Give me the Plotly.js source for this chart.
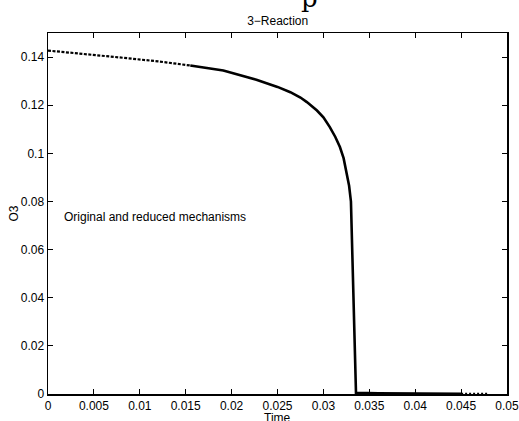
<!DOCTYPE html>
<html>
<head>
<meta charset="utf-8">
<script src="https://cdn.plot.ly/plotly-3.0.1.min.js"></script>
<style>html,body{margin:0;padding:0;background:#fff;}</style>
</head>
<body>
<div id="chart" style="width:519px;height:421px;"></div>
<script>
// Early part of curve (appears dotted in the reference)
const timeEarly = [0, 0.0041, 0.0082, 0.0120, 0.0155];
const o3Early   = [0.1427, 0.1413, 0.1397, 0.1382, 0.1365];

// Main part of curve (solid)
const timeMain = [0.0155, 0.0191, 0.0227, 0.0250, 0.0264, 0.0275, 0.0282, 0.0293, 0.0300, 0.0307, 0.0313, 0.0318, 0.0322, 0.0325, 0.0328, 0.0330, 0.03315, 0.03326, 0.03344, 0.03355, 0.0360, 0.0400, 0.0450];
const o3Main   = [0.1365, 0.1344, 0.1306, 0.1276, 0.1254, 0.1232, 0.1213, 0.1178, 0.1150, 0.1109, 0.1068, 0.1026, 0.0980, 0.0929, 0.0865, 0.0800, 0.0600, 0.0390, 0.0113, 0.0005, 0.0003, 0.0002, 0.0001];

// Dotted tail
const timeTail = [0.0450, 0.0479];
const o3Tail   = [0.0001, 0.0001];

const xTicks = [0, 0.005, 0.01, 0.015, 0.02, 0.025, 0.03, 0.035, 0.04, 0.045, 0.05];
const xTickText = ['0', '0.005', '0.01', '0.015', '0.02', '0.025', '0.03', '0.035', '0.04', '0.045', '0.05'];
const yTicks = [0, 0.02, 0.04, 0.06, 0.08, 0.1, 0.12, 0.14];
const yTickText = ['0', '0.02', '0.04', '0.06', '0.08', '0.1', '0.12', '0.14'];

const font = {family: 'Liberation Sans, Arial, sans-serif', size: 12, color: '#000'};

const traces = [
  {x: timeEarly, y: o3Early, mode: 'lines', line: {color: '#000', width: 2.2, dash: '3px,1.5px'}, hoverinfo: 'skip'},
  {x: timeMain, y: o3Main, mode: 'lines', line: {color: '#000', width: 2.6, shape: 'linear'}, hoverinfo: 'skip'},
  {x: timeTail, y: o3Tail, mode: 'lines', line: {color: '#000', width: 2, dash: '2px,2px'}, hoverinfo: 'skip'}
];

const layout = {
  width: 519, height: 421,
  margin: {l: 48, r: 12, t: 33, b: 27},
  paper_bgcolor: '#fff', plot_bgcolor: '#fff',
  showlegend: false,
  font: font,
  title: {text: '3\u2212Reaction', font: {family: font.family, size: 12, color: '#000'}, x: 0.535, xanchor: 'center', y: 1 - 21/421, yanchor: 'middle', yref: 'container'},
  xaxis: {
    range: [0, 0.05], tickvals: xTicks, ticktext: xTickText,
    ticks: 'inside', ticklen: 5, tickwidth: 1, tickcolor: '#000',
    showline: true, linecolor: '#000', linewidth: 1.5, mirror: 'ticks',
    showgrid: false, zeroline: false, tickfont: font,
    ticklabeloverflow: 'allow'
  },
  yaxis: {
    range: [0, 0.15], tickvals: yTicks, ticktext: yTickText,
    ticks: 'inside', ticklen: 5, tickwidth: 1, tickcolor: '#000',
    showline: true, linecolor: '#000', linewidth: 1.5, mirror: 'ticks',
    showgrid: false, zeroline: false, tickfont: font,
    ticklabeloverflow: 'allow'
  },
  annotations: [
    {x: 0.0015, y: 0.0736, xref: 'x', yref: 'y', text: 'Original and reduced mechanisms', showarrow: false, xanchor: 'left', yanchor: 'middle', font: font},
    {x: 0.5, y: (394-418)/361, xref: 'paper', yref: 'paper', text: 'Time', showarrow: false, xanchor: 'center', yanchor: 'middle', font: font},
    {x: (13-48)/459, y: 0.5, xref: 'paper', yref: 'paper', text: 'O3', textangle: -90, showarrow: false, xanchor: 'center', yanchor: 'middle', font: font},
    {x: (309-48)/459, y: (394+2)/361, xref: 'paper', yref: 'paper', text: 'p', showarrow: false, xanchor: 'center', yanchor: 'middle', font: {family: 'DejaVu Serif, serif', size: 26, color: '#000'}}
  ]
};

Plotly.newPlot('chart', traces, layout, {displayModeBar: false, staticPlot: true});
</script>
</body>
</html>
